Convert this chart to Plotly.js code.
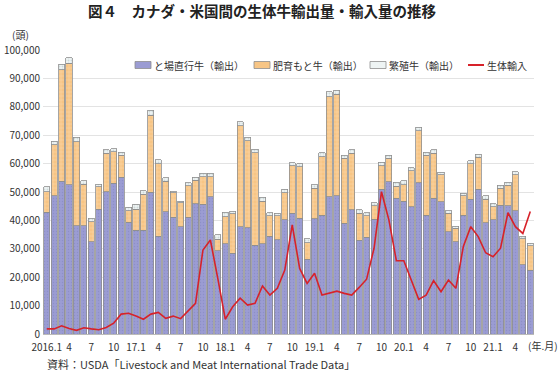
<!DOCTYPE html>
<html>
<head>
<meta charset="utf-8">
<script src="https://cdn.plot.ly/plotly-3.0.1.min.js"></script>
<style>
html,body{margin:0;padding:0;background:#fff;}
#chart{width:558px;height:372px;}
</style>
</head>
<body>
<div id="chart"></div>
<script>
// Months: 2016.1 – 2021.6
const months = [];
for (let y = 2016; y <= 2021; y++) {
  for (let m = 1; m <= 12; m++) {
    if (y === 2021 && m > 6) break;
    months.push(y + '.' + m);
  }
}

// と場直行牛（輸出）
const slaughterExport = [
  42900,48700,53700,52500,38200,38200,32500,44000,50100,53100,55200,39300,
  36600,36600,49900,34500,43000,41100,37700,41100,45800,45700,48400,29400,
  31800,28400,37700,37500,31300,31700,34500,33200,40200,42500,40700,26300,
  40500,41800,48400,48700,39000,43700,33100,34000,40400,51000,53600,47800,
  46700,44800,53300,41900,47800,46600,36000,32500,41900,47400,51000,39200,
  40200,45400,45100,43400,24300,22500
];
// 肥育もと牛（輸出）
const feederExport = [
  7200,17900,39300,42800,29500,14600,7100,7900,13500,11100,7800,4100,
  7300,12600,27200,25400,10700,8700,8600,11100,8400,9700,7000,3900,
  9500,13900,35600,30500,32600,15100,7200,8400,9600,16700,18200,5900,
  10800,20700,35200,35800,22900,19900,9400,7600,4800,8300,8300,4300,
  5800,12600,18300,21100,15800,9400,6500,4700,6700,12500,11200,8200,
  4600,5900,7300,12600,9200,8500
];
// 繁殖牛（輸出）
const breedingExport = [
  1700,1300,2000,2000,1600,1100,1100,900,1200,1000,1000,1200,
  1800,1300,1600,1400,1400,400,400,1100,1000,1200,1200,1600,
  1600,1000,1500,1300,1100,1300,1000,900,1100,1100,1000,1400,
  1200,1400,1700,1400,1100,1200,1200,1100,1100,1200,1100,1300,
  1400,1200,1200,1000,1200,900,900,800,900,1100,1100,1200,
  1000,1100,1000,1200,1000,900
];
// 生体輸入
const liveImport = [
  1800,1800,2900,1900,1300,2200,1800,1500,2300,3800,7000,7300,
  6300,5200,7000,7600,5500,6300,5400,8200,10800,29600,33100,19500,
  5200,9600,12600,10200,10800,16900,13700,16100,22500,38400,23100,17800,
  21400,13700,14300,15100,14300,13700,16400,19300,30200,50100,40100,25800,
  25800,19000,12200,13700,18800,14900,19000,16100,30800,37800,34300,28600,
  27200,30200,42700,37800,35400,43100
];

const seriesNames = ['と場直行牛（輸出）', '肥育もと牛（輸出）', '繁殖牛（輸出）', '生体輸入'];
const seriesColors = ['#9b9cd3', '#f7c585', '#eef4f4', '#d7222a'];

const tickVals = [];
const tickText = [];
months.forEach((k) => {
  const [y, m] = k.split('.');
  if ((+m - 1) % 3 === 0) {
    tickVals.push(k);
    if (+m === 1) tickText.push(y === '2016' ? '2016.1' : y.slice(2) + '.1');
    else tickText.push(m);
  }
});

const FONT = '"Noto Sans CJK JP", "Noto Sans", sans-serif';
const barLine = {color: '#8e8e8e', width: 0.8};

const traces = [
  {type: 'bar', name: seriesNames[0], x: months, y: slaughterExport,
   marker: {color: seriesColors[0], line: barLine,
            pattern: {shape: '.', fillmode: 'overlay', fgcolor: '#7f82bd', size: 3, solidity: 0.2}}},
  {type: 'bar', name: seriesNames[1], x: months, y: feederExport,
   marker: {color: seriesColors[1], line: barLine,
            pattern: {shape: '+', fillmode: 'overlay', fgcolor: '#fde9cc', size: 4, solidity: 0.25}}},
  {type: 'bar', name: seriesNames[2], x: months, y: breedingExport,
   marker: {color: seriesColors[2], line: barLine,
            pattern: {shape: '.', fillmode: 'overlay', fgcolor: '#a9bcbc', size: 3, solidity: 0.3}}},
  {type: 'scatter', mode: 'lines', name: seriesNames[3], x: months, y: liveImport,
   line: {color: seriesColors[3], width: 1.6}}
];

// pixel -> paper helpers (plot area: x 43..534, y 50..334)
const PL = 43, PW = 491, PT = 50, PH = 284;
const px = v => (v - PL) / PW;
const py = v => (PT + PH - v) / PH;

// manual legend
const legX = [135, 254, 370, 468];
const legY = 65;
const shapes = [];
const annotations = [];
seriesNames.forEach((n, i) => {
  if (i < 3) {
    shapes.push({type: 'rect', xref: 'paper', yref: 'paper',
      x0: px(legX[i]), x1: px(legX[i] + 16), y0: py(legY + 3.5), y1: py(legY - 3.5),
      fillcolor: seriesColors[i], line: {color: '#8e8e8e', width: 0.8}});
  } else {
    shapes.push({type: 'line', xref: 'paper', yref: 'paper',
      x0: px(legX[i]), x1: px(legX[i] + 16), y0: py(legY), y1: py(legY),
      line: {color: seriesColors[i], width: 2}});
  }
  annotations.push({text: n, xref: 'paper', yref: 'paper', x: px(legX[i] + 17), y: py(legY),
    xanchor: 'left', yanchor: 'middle', showarrow: false,
    font: {family: FONT, size: 10, color: '#333'}});
});

annotations.push(
  {text: '(頭)', xref: 'paper', yref: 'paper', x: px(20), y: py(35),
   xanchor: 'center', yanchor: 'middle', showarrow: false,
   font: {family: FONT, size: 10, color: '#333'}},
  {text: '(年.月)', xref: 'paper', yref: 'paper', x: px(526), y: py(345),
   xanchor: 'left', yanchor: 'middle', showarrow: false,
   font: {family: FONT, size: 10, color: '#333'}},
  {text: '資料：USDA「Livestock and Meat International Trade Data」', xref: 'paper', yref: 'paper',
   x: px(45), y: py(364), xanchor: 'left', yanchor: 'middle', showarrow: false,
   font: {family: FONT, size: 11, color: '#333'}}
);

const layout = {
  width: 558, height: 372,
  margin: {l: PL, r: 558 - PL - PW, t: PT, b: 372 - PT - PH},
  paper_bgcolor: '#fff', plot_bgcolor: '#fff',
  font: {family: FONT, size: 10, color: '#333'},
  barmode: 'stack', bargap: 0.18,
  showlegend: false,
  title: {text: '図４　カナダ・米国間の生体牛輸出量・輸入量の推移',
          x: 262/558, xanchor: 'center', xref: 'container',
          y: 1 - 12/372, yanchor: 'middle', yref: 'container',
          font: {family: FONT, size: 14.5, color: '#222', weight: 'bold'}},
  xaxis: {type: 'category', categoryorder: 'array', categoryarray: months,
          tickmode: 'array', tickvals: tickVals, ticktext: tickText,
          ticks: '', showgrid: false, showline: true, linecolor: '#bbb', linewidth: 1,
          ticklabelstandoff: 4,
          tickfont: {family: FONT, size: 10, color: '#333'}, tickangle: 0,
          range: [-0.5, months.length - 0.5], fixedrange: true},
  yaxis: {range: [0, 100000], tickmode: 'linear', tick0: 0, dtick: 10000,
          tickformat: ',d', showgrid: true, gridcolor: '#e3e3e3', gridwidth: 1,
          zeroline: false, showline: false, ticks: '', ticklabelstandoff: 2,
          tickfont: {family: FONT, size: 10, color: '#333'}, fixedrange: true},
  shapes: shapes,
  annotations: annotations
};

Plotly.newPlot('chart', traces, layout, {displayModeBar: false, staticPlot: true});
</script>
</body>
</html>
